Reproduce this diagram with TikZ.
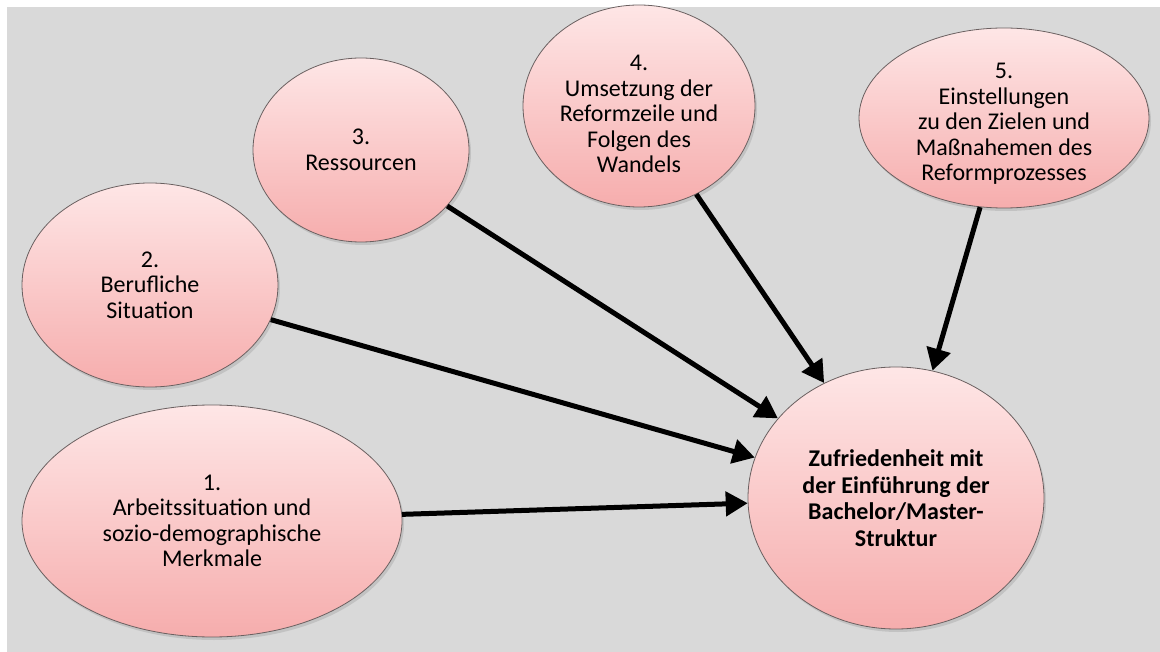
\documentclass[tikz,border=0pt]{standalone}
\usepackage{fontspec}
\setmainfont{Carlito}
\usetikzlibrary{arrows.meta,shadows,shapes.geometric}
\definecolor{bggray}{HTML}{D9D9D9}
\definecolor{pinktop}{HTML}{FEE6E6}
\definecolor{pinkbot}{HTML}{F6ADAD}
\definecolor{rimgray}{HTML}{6A6060}
\tikzset{
  bubble/.style={ellipse, draw=rimgray, line width=0.8pt, top color=pinktop, bottom color=pinkbot,
    inner sep=0pt, align=center, font=\fontsize{24}{25.5}\selectfont, text=black,
    drop shadow={opacity=0.25, shadow xshift=2pt, shadow yshift=-3pt}},
  bubtext/.style={inner sep=0pt, align=center, font=\fontsize{24}{25.5}\selectfont, text=black},
  link/.style={line width=5pt, -{Triangle[length=22pt,width=24pt]}, black}
}
\begin{document}
\begin{tikzpicture}[x=1pt,y=-1pt]
\useasboundingbox (0,0) rectangle (1160,652);
\fill[bggray] (7,7) rectangle (1160,652);

\node[bubble, minimum width=380pt, minimum height=232pt] (e1) at (212,521)
  {1.\\Arbeitssituation und\\sozio-demographische\\Merkmale};
\node[bubble, minimum width=256pt, minimum height=204pt] (e2) at (150,285)
  {2.\\Berufliche\\Situation};
\node[bubble, minimum width=216pt, minimum height=184pt] (e3) at (361,150)
  {3.\\Ressourcen};
\node[bubble, minimum width=232pt, minimum height=202pt] (e4) at (639,106) {};
\node[bubtext] (e4t) at (639,114)
  {4.\\Umsetzung der\\Reformzeile und\\Folgen des\\Wandels};
\node[bubble, minimum width=290pt, minimum height=180pt] (e5) at (1004,118) {};
\node[bubtext] (e5t) at (1004,124)
  {5.\\Einstellungen\\zu den Zielen und\\Maßnahemen des\\Reformprozesses};
\node[bubble, minimum width=296pt, minimum height=262pt, font=\fontsize{24}{26.5}\selectfont\bfseries] (c) at (896,498)
  {Zufriedenheit mit\\der Einführung der\\Bachelor/Master-\\Struktur};

\draw[link] (e1.2) -- (c.182);
\draw[link] (e2.-16) -- (c.164);
\draw[link] (e3.-33) -- (c.146.4);
\draw[link] (e4.-57) -- (c.122.8);
\draw[link] (e5.-105) -- (c.74);
\end{tikzpicture}
\end{document}
